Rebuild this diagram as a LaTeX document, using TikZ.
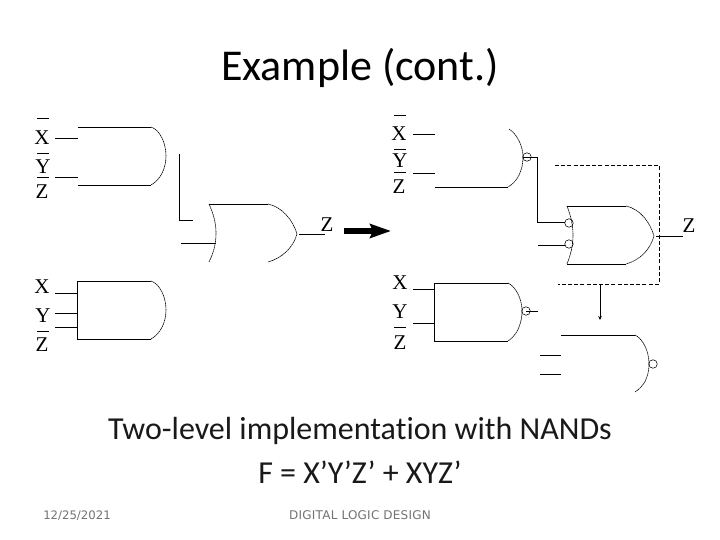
\documentclass[tikz,border=0pt]{standalone}
\usepackage{fontspec}
\setmainfont[Ligatures=NoCommon,Contextuals=NoAlternate]{Carlito}
\newfontfamily\sigfont{Liberation Serif}
\newfontfamily\footfont{DejaVu Sans}
\newfontfamily\footspaced[LetterSpace=2]{DejaVu Sans}
\usetikzlibrary{arrows.meta}
\tikzset{
 x=1pt,y=-1pt,
 wire/.style={draw=black,line width=0.75pt},
 sig/.style={font=\sigfont\fontsize{21}{21}\selectfont,inner sep=0pt,text=black},
 bub/.style={circle,draw=black,line width=0.55pt,minimum size=8.5pt,inner sep=0pt},
 curve/.style={draw=black,line width=0.6pt,dash pattern=on 1.6pt off 0.5pt},
 body/.style={font=\fontsize{32}{32}\selectfont,inner sep=0pt,text=black!90,anchor=base},
 foot/.style={inner sep=0pt,text=black!55,anchor=base},
}
\newcommand{\sigbar}[3]{\draw[line width=0.7pt] (#1-6,#2) -- (#1+#3,#2);}
\begin{document}
\begin{tikzpicture}
\useasboundingbox (0,0) rectangle (720,540);
\fill[white] (0,0) rectangle (720,540);
\node[font=\fontsize{44}{44}\selectfont,inner sep=0pt] (title) at (360,68) {Example (cont.)};
\node[body] (b1) at (360,439) {Two-level implementation with NANDs};
\node[body] (b2) at (360,483) {F = X’Y’Z’ + XYZ’};
\node[foot,font=\footfont\fontsize{11.7}{12}\selectfont] (d) at (77,519) {12/25/2021};
\node[foot,font=\footspaced\fontsize{12}{12}\selectfont] (f) at (360,519) {DIGITAL LOGIC DESIGN};
% labels left
\node[sig] (lx1) at (42,138) {X}; \node[sig] (ly1) at (43,167) {Y}; \node[sig] (lz1) at (42,192) {Z};
\node[sig] (lx2) at (42,287) {X}; \node[sig] (ly2) at (43,316) {Y}; \node[sig] (lz2) at (42,345) {Z};
\node[sig] (oz1) at (327,225) {Z};
\sigbar{43}{118}{6} \sigbar{43}{153}{6} \sigbar{43}{177}{6} \sigbar{43}{331}{6}
% left top AND
\coordinate (a1) at (78,127); \coordinate (a2) at (151,127); \coordinate (a3) at (166,156);
\coordinate (a4) at (151,185); \coordinate (a5) at (78,185);
\draw[wire] (a1) -- (a2); \draw[wire] (a5) -- (a4);
\draw[curve] (a2) .. controls (160,130) and (166,143) .. (a3) .. controls (166,169) and (160,180) .. (a4);
\coordinate (i1) at (55,138); \coordinate (j1) at (78,138);
\coordinate (i2) at (55,177); \coordinate (j2) at (78,177);
\draw[wire] (i1) -- (j1); \draw[wire] (i2) -- (j2);
% left bottom AND
\coordinate (c1) at (77,281); \coordinate (c2) at (151,281); \coordinate (c3) at (166,310);
\coordinate (c4) at (151,339); \coordinate (c5) at (77,339);
\draw[wire] (c2) -- (c1) -- (c5) -- (c4);
\draw[curve] (c2) .. controls (160,284) and (166,297) .. (c3) .. controls (166,323) and (160,334) .. (c4);
\foreach \y in {293,313,327} \draw[wire] (55,\y) -- (77,\y);
% left OR
\coordinate (o1) at (209,204); \coordinate (o2) at (268,204); \coordinate (o3) at (297,234);
\coordinate (o4) at (268,262); \coordinate (o5) at (209,262); \coordinate (o6) at (216,233);
\draw[wire] (o1) -- (o2);
\draw[curve] (o2) .. controls (282,207) and (293,220) .. (o3) .. controls (293,248) and (282,258) .. (o4);
\draw[curve] (o1) .. controls (214,215) and (216,224) .. (o6) .. controls (216,243) and (214,252) .. (o5);
\coordinate (w1) at (179,154); \coordinate (w2) at (179,220); \coordinate (w3) at (193,220);
\draw[wire] (w1) -- (w2) -- (w3);
\coordinate (w4) at (181,243); \coordinate (w5) at (216,243); \draw[wire] (w4) -- (w5);
\coordinate (ow) at (299,234); \coordinate (oe) at (325,234); \draw[wire] (ow) -- (oe);
% big arrow
\coordinate (ar1) at (344,231); \coordinate (ar2) at (391,231);
\draw[line width=5pt,-{Stealth[length=21pt,width=14pt,inset=3pt]}] (ar1) -- (ar2);
% right labels
\node[sig] (rx1) at (399,134) {X}; \node[sig] (ry1) at (400,161) {Y}; \node[sig] (rz1) at (399,187) {Z};
\node[sig] (rx2) at (400,283) {X}; \node[sig] (ry2) at (400,312) {Y}; \node[sig] (rz2) at (400,343) {Z};
\node[sig] (oz2) at (689,226) {Z};
\sigbar{400}{115}{6} \sigbar{400}{149}{6} \sigbar{400}{172}{6} \sigbar{400}{327}{6}
% right top NAND
\coordinate (p1) at (509,129); \coordinate (p2) at (523,157); \coordinate (p3) at (508,187); \coordinate (p4) at (435,187);
\draw[curve] (p1) .. controls (517,134) and (523,146) .. (p2) .. controls (523,171) and (517,182) .. (p3);
\draw[wire] (p4) -- (p3);
\coordinate (k1) at (413,134); \coordinate (k2) at (435,134); \coordinate (k3) at (413,173); \coordinate (k4) at (435,173);
\draw[wire] (k1) -- (k2); \draw[wire] (k3) -- (k4);
\node[bub] (n1) at (527,157) {};
\coordinate (t1) at (523,157); \coordinate (t2) at (537,157); \coordinate (t3) at (537,222); \coordinate (t4) at (565,222);
\draw[wire] (t1) -- (t2) -- (t3) -- (t4);
\coordinate (t5) at (538,245); \coordinate (t6) at (565,245); \draw[wire] (t5) -- (t6);
% right middle
\node[bub] (n2) at (569,223) {}; \node[bub] (n3) at (569,244) {};
\coordinate (q1) at (567,206); \coordinate (q2) at (626,206); \coordinate (q3) at (654,236);
\coordinate (q4) at (626,264); \coordinate (q5) at (567,264); \coordinate (q6) at (573,235);
\draw[wire] (q1) -- (q2); \draw[wire] (q5) -- (q4);
\draw[curve] (q2) .. controls (640,209) and (650,222) .. (q3) .. controls (650,250) and (640,260) .. (q4);
\draw[curve] (q1) .. controls (571,216) and (573,226) .. (q6) .. controls (573,245) and (571,254) .. (q5);
\coordinate (qw) at (656,236); \coordinate (qe) at (683,236); \draw[wire] (qw) -- (qe);
% dashed box
\coordinate (d1) at (555,165); \coordinate (d2) at (659,165); \coordinate (d3) at (659,284); \coordinate (d4) at (558,284);
\draw[line width=0.75pt,dash pattern=on 4pt off 2.2pt] (d1) -- (d2) -- (d3) -- (d4);
% down arrow
\coordinate (v1) at (600,284); \coordinate (v2) at (600,320);
\draw[line width=0.75pt,-{Stealth[length=4pt,width=3.5pt]}] (v1) -- (v2);
% right bottom NAND
\coordinate (s1) at (434,283); \coordinate (s2) at (508,283); \coordinate (s3) at (522,311);
\coordinate (s4) at (508,341); \coordinate (s5) at (434,341);
\draw[wire] (s2) -- (s1) -- (s5) -- (s4);
\draw[curve] (s2) .. controls (516,287) and (522,299) .. (s3) .. controls (522,325) and (516,336) .. (s4);
\coordinate (u1) at (413,289); \coordinate (u2) at (434,289); \coordinate (u3) at (413,323); \coordinate (u4) at (434,323);
\draw[wire] (u1) -- (u2); \draw[wire] (u3) -- (u4);
\node[bub] (n4) at (526,311) {};
\coordinate (u5) at (538,311); \draw[wire] (n4.center) -- (u5);
% lower right NAND
\coordinate (g1) at (561,335); \coordinate (g2) at (635,335); \coordinate (g3) at (649,364); \coordinate (g4) at (635,392);
\draw[wire] (g1) -- (g2);
\draw[curve] (g2) .. controls (643,339) and (649,351) .. (g3) .. controls (649,378) and (643,387) .. (g4);
\node[bub] (n5) at (653,364) {};
\coordinate (h1) at (540,355); \coordinate (h2) at (561,355); \coordinate (h3) at (540,374); \coordinate (h4) at (561,374);
\draw[wire] (h1) -- (h2); \draw[wire] (h3) -- (h4);
\end{tikzpicture}
\end{document}
